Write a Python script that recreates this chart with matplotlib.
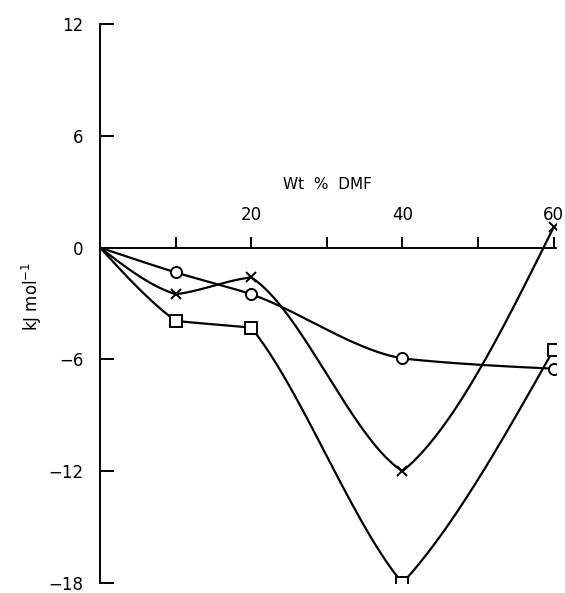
import numpy as np
import matplotlib
matplotlib.use("Agg")
import matplotlib.pyplot as plt

# Wt % DMF
dmf = [0, 10, 20, 40, 60]

# kJ mol-1
circle_vals = [0, -1.33, -2.5, -5.95, -6.5]
cross_vals = [0, -2.5, -1.6, -12.0, 1.1]
square_vals = [0, -3.93, -4.3, -18.0, -5.47]

x_major = [20, 40, 60]
x_minor = [10, 30, 50]
y_ticks = [-18, -12, -6, 0, 6, 12]


def smooth(xs, ys, kink=0.3, n=80):
	# hand-drawn look: shape preserving slopes, bent a bit towards the
	# neighbouring chords so that sharp turns stay sharp; natural ends
	x = np.asarray(xs, float)
	y = np.asarray(ys, float)
	h = np.diff(x)
	d = np.diff(y) / h
	k = len(x)
	left = np.zeros(k)
	right = np.zeros(k)
	for i in range(1, k - 1):
		if d[i - 1] * d[i] > 0:
			w1 = 2 * h[i] + h[i - 1]
			w2 = h[i] + 2 * h[i - 1]
			base = (w1 + w2) / (w1 / d[i - 1] + w2 / d[i])
		else:
			base = 0.0
		left[i] = (1 - kink) * base + kink * d[i - 1]
		right[i] = (1 - kink) * base + kink * d[i]
	right[0] = (3 * d[0] - left[1]) / 2
	left[-1] = (3 * d[-1] - right[-2]) / 2
	t = np.linspace(0, 1, n)
	h00 = 2 * t**3 - 3 * t**2 + 1
	h10 = t**3 - 2 * t**2 + t
	h01 = -2 * t**3 + 3 * t**2
	h11 = t**3 - t**2
	ox, oy = [], []
	for i in range(k - 1):
		ox.append(x[i] + t * h[i])
		oy.append(h00 * y[i] + h10 * h[i] * right[i] + h01 * y[i + 1] + h11 * h[i] * left[i + 1])
	return np.concatenate(ox), np.concatenate(oy)


def main():
	plt.rcParams["font.family"] = "DejaVu Sans"
	fig = plt.figure(figsize=(5.65, 5.93), dpi=100)
	ax = fig.add_axes([0.177, 0.0169, 0.807, 0.9426])

	series = [(circle_vals, "o", 8, 0.2), (cross_vals, "x", 7, 0.5), (square_vals, "s", 8, 0.7)]
	for vals, mk, ms, kink in series:
		cx, cy = smooth(dmf, vals, kink)
		ax.plot(cx, cy, color="black", lw=1.6, zorder=2)
		ax.plot(dmf[1:], vals[1:], linestyle="none", marker=mk, ms=ms,
			mfc="white", mec="black", mew=1.4, zorder=3)

	ax.set_xlim(0, 60.3)
	ax.set_ylim(-18, 12)

	ax.spines["top"].set_visible(False)
	ax.spines["right"].set_visible(False)
	ax.spines["bottom"].set_position(("data", 0))
	ax.spines["bottom"].set_linewidth(1.4)
	ax.spines["left"].set_linewidth(1.4)

	ax.set_xticks(x_major)
	ax.set_xticks(x_minor, minor=True)
	ax.set_xticklabels([str(v) for v in x_major])
	ax.tick_params(axis="x", which="both", direction="in", length=8, width=1.4)
	ax.tick_params(axis="x", which="major", pad=-30, labelsize=12)

	ax.set_yticks(y_ticks)
	ax.set_yticklabels([str(v).replace("-", "\u2212") for v in y_ticks])
	ax.tick_params(axis="y", direction="in", length=10, width=1.4, pad=12, labelsize=12)

	ax.text(30.1, 3.4, "Wt  %  DMF", ha="center", va="center", fontsize=11)
	fig.text(0.057, 0.5, "kJ mol$^{-1}$", rotation=90, ha="center", va="center", fontsize=12)

	fig.savefig("out.png", dpi=100)


if __name__ == "__main__":
	main()
